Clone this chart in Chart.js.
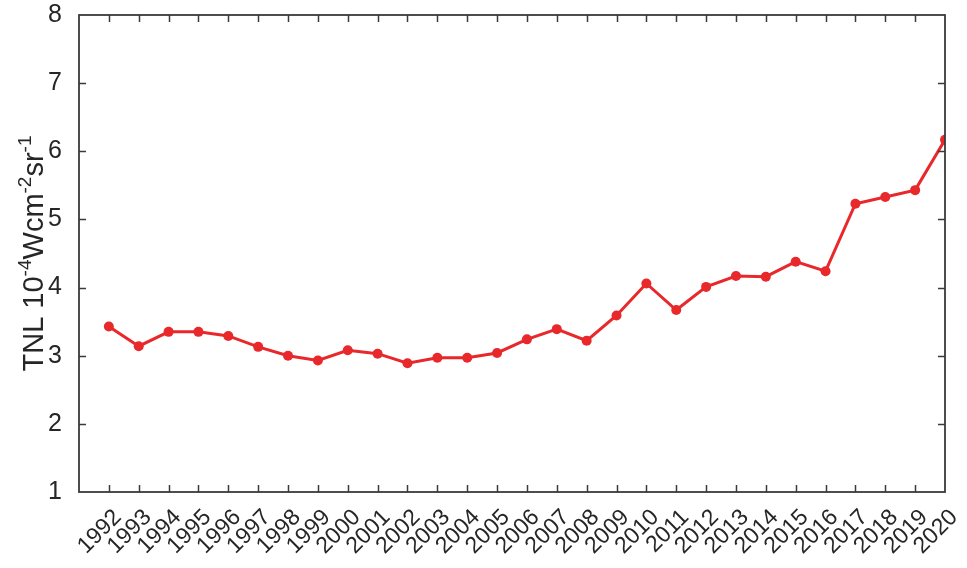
<!DOCTYPE html>
<html>
<head>
<meta charset="utf-8">
<script src="https://cdn.jsdelivr.net/npm/chart.js@4/dist/chart.umd.min.js"></script>
<style>
  html, body { margin: 0; padding: 0; background: #ffffff; }
  #wrap { width: 967px; height: 568px; }
</style>
</head>
<body>
<div id="wrap"><canvas id="c" width="967" height="568"></canvas></div>
<script>
// Annual total night light (TNL), 1992-2020
const years = [1992, 1993, 1994, 1995, 1996, 1997, 1998, 1999, 2000, 2001,
               2002, 2003, 2004, 2005, 2006, 2007, 2008, 2009, 2010, 2011,
               2012, 2013, 2014, 2015, 2016, 2017, 2018, 2019, 2020];
const tnl = [3.43, 3.14, 3.35, 3.35, 3.29, 3.13, 3.00, 2.93, 3.08, 3.03,
             2.89, 2.97, 2.97, 3.04, 3.24, 3.39, 3.22, 3.59, 4.06, 3.67,
             4.01, 4.17, 4.16, 4.38, 4.24, 5.23, 5.33, 5.43, 6.17];
const yTicks = [1, 2, 3, 4, 5, 6, 7, 8];
const xMin = 1991, xMax = 2020;

const FONT = "'Liberation Sans', Arial, Helvetica, sans-serif";
const AXIS_COLOR = '#3a3a3a';
const TEXT_COLOR = '#262626';
const LINE_RED = '#e8282b';

// Box around the plot area plus inward-pointing tick marks on all four sides
const boxPlugin = {
  id: 'boxTicks',
  afterDraw(chart) {
    const { ctx, chartArea: a, scales } = chart;
    const len = 7;
    ctx.save();
    ctx.strokeStyle = AXIS_COLOR;
    ctx.lineWidth = 1.5;
    ctx.beginPath();
    for (let yr = xMin + 1; yr < xMax; yr++) {
      const px = Math.round(scales.x.getPixelForValue(yr)) + 0.5;
      ctx.moveTo(px, a.bottom); ctx.lineTo(px, a.bottom - len);
      ctx.moveTo(px, a.top); ctx.lineTo(px, a.top + len);
    }
    yTicks.slice(1, -1).forEach(v => {
      const py = Math.round(scales.y.getPixelForValue(v)) + 0.5;
      ctx.moveTo(a.left, py); ctx.lineTo(a.left + len, py);
      ctx.moveTo(a.right, py); ctx.lineTo(a.right - len, py);
    });
    ctx.stroke();
    ctx.lineWidth = 1.8;
    ctx.strokeRect(a.left, a.top, a.right - a.left, a.bottom - a.top);
    ctx.restore();
  }
};

// Rotated y-axis title with superscript exponents
const yTitlePlugin = {
  id: 'yTitle',
  afterDraw(chart) {
    const { ctx, chartArea: a } = chart;
    const parts = [
      ['TNL 10', false], ['-4', true], ['Wcm', false], ['-2', true],
      ['sr', false], ['-1', true]
    ];
    const big = '29px ' + FONT, small = '19px ' + FONT;
    ctx.save();
    let total = 0;
    parts.forEach(([t, sup]) => { ctx.font = sup ? small : big; total += ctx.measureText(t).width; });
    ctx.translate(43, (a.top + a.bottom) / 2);
    ctx.rotate(-Math.PI / 2);
    ctx.fillStyle = TEXT_COLOR;
    ctx.textBaseline = 'alphabetic';
    let x = -total / 2;
    parts.forEach(([t, sup]) => {
      ctx.font = sup ? small : big;
      ctx.fillText(t, x, sup ? -12 : 0);
      x += ctx.measureText(t).width;
    });
    ctx.restore();
  }
};

const points = years.map((yr, i) => ({ x: yr, y: tnl[i] }));

new Chart(document.getElementById('c'), {
  type: 'line',
  data: {
    datasets: [{
      data: points,
      borderColor: LINE_RED,
      backgroundColor: LINE_RED,
      borderWidth: 3,
      pointRadius: 5,
      pointBorderWidth: 0,
      pointBackgroundColor: LINE_RED,
      tension: 0
    }]
  },
  options: {
    responsive: false,
    animation: false,
    layout: { padding: { top: 15, right: 22, left: 0, bottom: 0 } },
    plugins: { legend: { display: false }, tooltip: { enabled: false } },
    scales: {
      x: {
        type: 'linear',
        min: xMin,
        max: xMax,
        grid: { display: false, drawTicks: false },
        border: { display: false },
        afterBuildTicks(scale) {
          scale.ticks = [];
          for (let yr = xMin; yr <= xMax; yr++) scale.ticks.push({ value: yr });
        },
        afterFit(scale) {
          scale.height = 568 - 492;
          scale.paddingLeft = 0;
          scale.paddingRight = 0;
        },
        ticks: {
          autoSkip: false,
          minRotation: 45,
          maxRotation: 45,
          padding: 12,
          labelOffset: 9,
          color: TEXT_COLOR,
          font: { family: FONT, size: 23 },
          callback: v => (v === xMin ? '' : String(v))
        }
      },
      y: {
        min: 1,
        max: 8,
        grid: { display: false, drawTicks: false },
        border: { display: false },
        afterBuildTicks(scale) { scale.ticks = yTicks.map(v => ({ value: v })); },
        afterFit(scale) {
          scale.width = 79;
          scale.paddingTop = 0;
          scale.paddingBottom = 0;
        },
        ticks: {
          padding: 17,
          color: TEXT_COLOR,
          font: { family: FONT, size: 25 }
        }
      }
    }
  },
  plugins: [boxPlugin, yTitlePlugin]
});
</script>
</body>
</html>
